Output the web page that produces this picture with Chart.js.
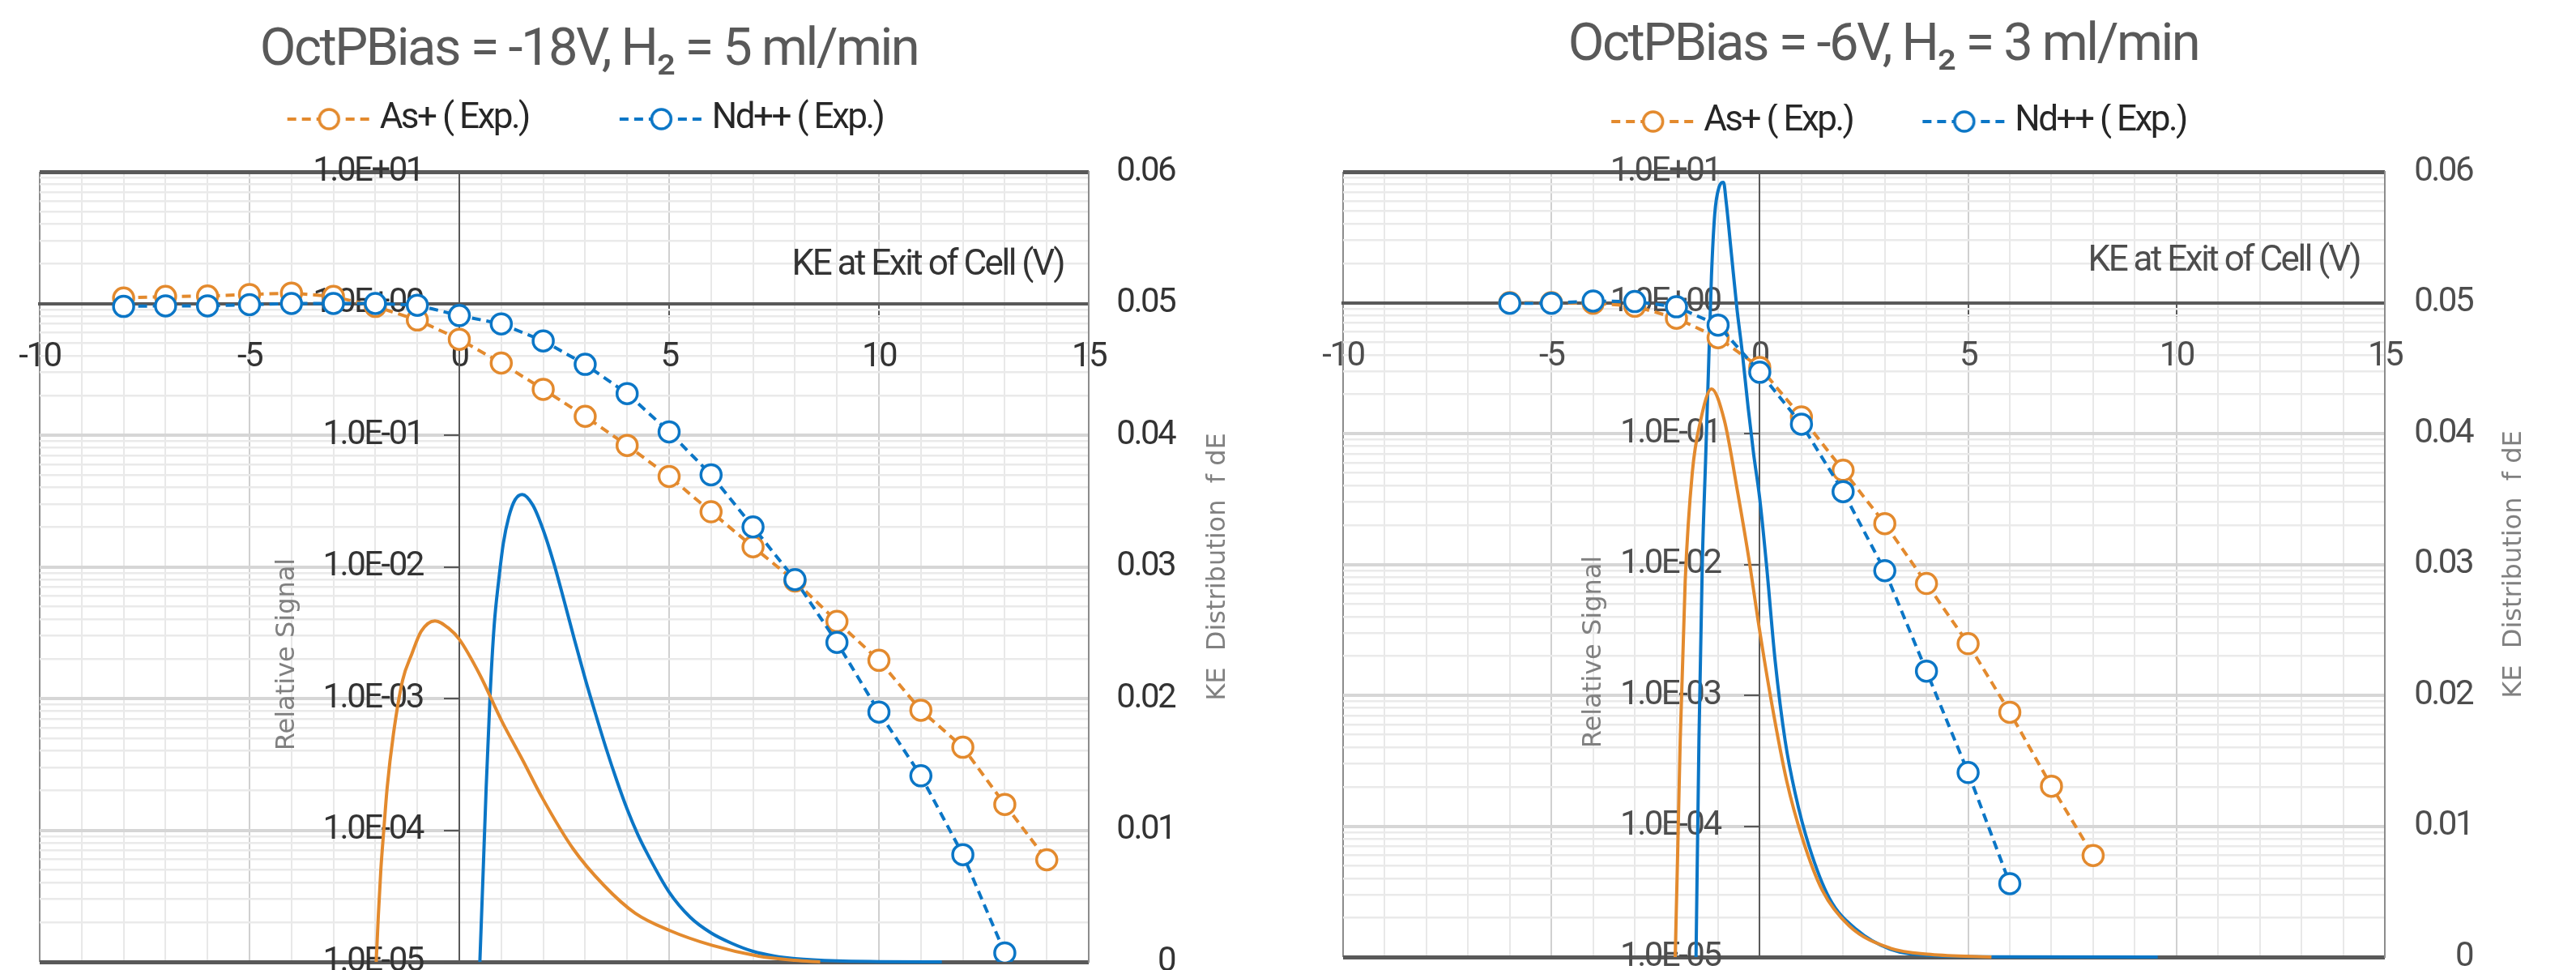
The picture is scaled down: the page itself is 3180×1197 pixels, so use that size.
<!DOCTYPE html>
<html>
<head>
<meta charset="utf-8">
<script src="https://cdn.jsdelivr.net/npm/chart.js@4.4.1/dist/chart.umd.min.js"></script>
<style>
  html, body { margin: 0; padding: 0; background: #ffffff; }
  #wrap { width: 3180px; height: 1197px; display: flex; }
  canvas { display: block; }
</style>
</head>
<body>
<div id="wrap">
  <canvas id="c1" width="1590" height="1197"></canvas>
  <canvas id="c2" width="1590" height="1197"></canvas>
</div>
<script>
// ---------------- text ----------------
const chartTitles = ['OctPBias = -18V, H\u2082 = 5 ml/min', 'OctPBias = -6V, H\u2082 = 3 ml/min'];
const seriesNames = ['As+ ( Exp.)', 'Nd++ ( Exp.)'];
const curveNames = ['As+ KE distribution', 'Nd++ KE distribution'];
const xAxisTitle = 'KE at Exit of Cell (V)';
const yAxisTitle = 'Relative Signal';
const y2AxisTitle = 'KE  Distribution  f dE';

// ---------------- tick values / labels ----------------
const xTickValues = [-10, -9, -8, -7, -6, -5, -4, -3, -2, -1, 0, 1, 2, 3, 4, 5, 6, 7, 8, 9, 10, 11, 12, 13, 14, 15];
const xLabelledTicks = [-10, -5, 0, 5, 10, 15];
const yDecadeExponents = [-5, -4, -3, -2, -1, 0, 1];
const yMantissas = [1, 2, 3, 4, 5, 6, 7, 8, 9];
const y2TickValues = [0, 0.01, 0.02, 0.03, 0.04, 0.05, 0.06];
const y2TickLabels = ['0', '0.01', '0.02', '0.03', '0.04', '0.05', '0.06'];

// ---------------- chart 1 data (OctPBias = -18V) ----------------
const c1AsX = [-8, -7, -6, -5, -4, -3, -2, -1, 0, 1, 2, 3, 4, 5, 6, 7, 8, 9, 10, 11, 12, 13, 14];
const c1AsY = [1.10, 1.13, 1.14, 1.17, 1.20, 1.13, 0.95, 0.75, 0.535, 0.353, 0.223, 0.139, 0.0836, 0.0486, 0.0262, 0.0142, 0.0078, 0.00385, 0.00195, 0.000815, 0.000427, 0.000157, 0.0000596];
const c1NdX = [-8, -7, -6, -5, -4, -3, -2, -1, 0, 1, 2, 3, 4, 5, 6, 7, 8, 9, 10, 11, 12, 13];
const c1NdY = [0.95, 0.96, 0.96, 0.98, 1.0, 1.0, 1.0, 0.97, 0.81, 0.70, 0.52, 0.345, 0.207, 0.106, 0.050, 0.0201, 0.0080, 0.00267, 0.00079, 0.000259, 0.0000652, 0.0000117];
const c1AsCurveX = [-1.98, -1.93, -1.87, -1.8, -1.72, -1.57, -1.35, -1.13, -0.91, -0.58, -0.24, 0, 0.49, 1.01, 1.53, 1.97, 2.71, 3.45, 4.19, 5.0, 6.03, 7.14, 8.0, 8.6];
const c1AsCurveY = [0, 0.0035, 0.0070, 0.0100, 0.0132, 0.0173, 0.0214, 0.0234, 0.0251, 0.0259, 0.0253, 0.0245, 0.0218, 0.0183, 0.0152, 0.0125, 0.0086, 0.0058, 0.0037, 0.0024, 0.00125, 0.00043, 0.00012, 0];
const c1NdCurveX = [0.49, 0.57, 0.64, 0.73, 0.83, 0.94, 1.05, 1.18, 1.33, 1.5, 1.75, 2.0, 2.25, 2.5, 2.75, 3.0, 3.25, 3.5, 3.75, 4.0, 4.25, 4.5, 5.0, 5.5, 6.0, 6.5, 7.0, 7.5, 8.0, 9.0, 10.0, 11.5];
const c1NdCurveY = [0, 0.007, 0.0132, 0.020, 0.0255, 0.0290, 0.0318, 0.0338, 0.0351, 0.0355, 0.0347, 0.0328, 0.0303, 0.0274, 0.0244, 0.0215, 0.0188, 0.0162, 0.0138, 0.0116, 0.0097, 0.0081, 0.0053, 0.0034, 0.0022, 0.0014, 0.0008, 0.00045, 0.00025, 0.00007, 0.00002, 0];

// ---------------- chart 2 data (OctPBias = -6V) ----------------
const c2AsX = [-6, -5, -4, -3, -2, -1, 0, 1, 2, 3, 4, 5, 6, 7, 8];
const c2AsY = [1.00, 1.00, 0.99, 0.94, 0.76, 0.54, 0.32, 0.134, 0.0524, 0.0205, 0.00715, 0.00248, 0.000742, 0.000202, 0.0000597];
const c2NdX = [-6, -5, -4, -3, -2, -1, 0, 1, 2, 3, 4, 5, 6];
const c2NdY = [0.99, 0.99, 1.03, 1.02, 0.93, 0.674, 0.294, 0.118, 0.036, 0.00896, 0.00153, 0.000257, 0.0000364];
const c2AsCurveX = [-2.03, -1.97, -1.91, -1.79, -1.62, -1.42, -1.16, -0.85, -0.53, -0.24, -0.04, 0.28, 0.65, 1.02, 1.5, 2.15, 3.13, 4.1, 5.56];
const c2AsCurveY = [0, 0.008, 0.0165, 0.0287, 0.037, 0.041, 0.0434, 0.041, 0.0355, 0.030, 0.0257, 0.0195, 0.0134, 0.0091, 0.0051, 0.00237, 0.00068, 0.0002, 0];
const c2NdCurveX = [-1.53, -1.46, -1.38, -1.3, -1.23, -1.16, -1.08, -0.98, -0.87, -0.81, -0.68, -0.55, -0.42, -0.28, -0.15, 0.0, 0.16, 0.37, 0.61, 0.85, 1.18, 1.67, 2.32, 3.13, 4.1, 5.5, 9.55];
const c2NdCurveY = [0, 0.0165, 0.030, 0.038, 0.045, 0.052, 0.0568, 0.0588, 0.0592, 0.0578, 0.0537, 0.0496, 0.0462, 0.0420, 0.0385, 0.0350, 0.0300, 0.0226, 0.0165, 0.0125, 0.0085, 0.0045, 0.0021, 0.0006, 0.00012, 0.00002, 0];

// ---------------- styling ----------------
const ORANGE = '#E38A2E';
const BLUE = '#0B76C6';
const FONT_NARROW = "Roboto, 'Liberation Sans', sans-serif";
const FONT_WIDE = "'DejaVu Sans', 'Verdana', sans-serif";
const LETTER_SPACING = '-2.5px';

function zip(xs, ys) { return xs.map((x, i) => ({ x: x, y: ys[i] })); }

function legendImage(color, width) {
  const c = document.createElement('canvas');
  const H = 32, M = 103;
  c.width = width; c.height = H;
  const g = c.getContext('2d');
  const x0 = width - M;
  g.strokeStyle = color;
  g.lineWidth = 4;
  g.setLineDash([11, 7]);
  g.beginPath(); g.moveTo(x0, H / 2); g.lineTo(width, H / 2); g.stroke();
  g.setLineDash([]);
  g.beginPath(); g.arc(x0 + M / 2, H / 2, 12, 0, Math.PI * 2);
  g.fillStyle = '#ffffff'; g.fill();
  g.lineWidth = 3.5; g.stroke();
  return c;
}

function fmtExp(v) {
  const l = Math.log10(v);
  const e = Math.round(l);
  if (Math.abs(l - e) > 1e-6) return '';
  return '1.0E' + (e < 0 ? '-' : '+') + String(Math.abs(e)).padStart(2, '0');
}

// tighter letter spacing to approximate the condensed face of the original
const condensePlugin = {
  id: 'condense',
  beforeUpdate(chart) { chart.ctx.letterSpacing = LETTER_SPACING; },
  beforeDraw(chart) { chart.ctx.letterSpacing = LETTER_SPACING; }
};

const axisTitlePlugin = {
  id: 'axisTitles',
  afterDraw(chart, args, o) {
    const { ctx, chartArea: ca, scales } = chart;
    const midY = (ca.top + ca.bottom) / 2;
    ctx.save();
    ctx.letterSpacing = '0px';
    ctx.font = '32px ' + FONT_WIDE;
    ctx.fillStyle = '#808080';
    ctx.textAlign = 'center';
    ctx.textBaseline = 'middle';
    ctx.save();
    ctx.translate(scales.x.getPixelForValue(0) - o.yTitleDX, midY + o.yTitleDY);
    ctx.rotate(-Math.PI / 2);
    ctx.fillText(scales.y.options.title.text, 0, 0);
    ctx.restore();
    ctx.save();
    ctx.translate(ca.right + o.y2TitleDX, midY);
    ctx.rotate(-Math.PI / 2);
    ctx.fillText(scales.y2.options.title.text, 0, 0);
    ctx.restore();
    ctx.letterSpacing = LETTER_SPACING;
    ctx.font = '44px ' + FONT_NARROW;
    ctx.fillStyle = o.xTitleColor;
    ctx.textAlign = 'right';
    ctx.fillText(scales.x.options.title.text, ca.right - o.xTitleInset, scales.y.getPixelForValue(1) - o.xTitleDY);
    ctx.restore();
  }
};

function buildChart(id, d, L) {
  const imgW = L.legendBox + 22;
  const imgs = [legendImage(ORANGE, imgW), legendImage(BLUE, imgW)];
  const yTicks = [];
  yDecadeExponents.forEach(e => {
    yMantissas.forEach(m => {
      const v = m * Math.pow(10, e);
      if (v <= 10.0000001) yTicks.push({ value: v, major: m === 1 });
    });
  });
  const isDecade = v => Math.abs(Math.log10(v) - Math.round(Math.log10(v))) < 1e-6;
  const tickFont = { family: FONT_NARROW, size: 42 };
  const curveClip = { left: 0, top: 0, right: 0, bottom: 4 };

  return new Chart(document.getElementById(id), {
    type: 'scatter',
    data: {
      datasets: [
        { label: seriesNames[0], data: zip(d.asX, d.asY), yAxisID: 'y', order: 1,
          showLine: true, borderColor: ORANGE, borderWidth: 4, borderDash: [11, 7],
          pointRadius: 12.5, pointBorderWidth: 3.5, pointBorderColor: ORANGE, pointBackgroundColor: '#ffffff' },
        { label: seriesNames[1], data: zip(d.ndX, d.ndY), yAxisID: 'y', order: 0,
          showLine: true, borderColor: BLUE, borderWidth: 4, borderDash: [11, 7],
          pointRadius: 12.5, pointBorderWidth: 3.5, pointBorderColor: BLUE, pointBackgroundColor: '#ffffff' },
        { label: curveNames[0], data: zip(d.asCX, d.asCY), yAxisID: 'y2', order: 2, clip: curveClip,
          showLine: true, borderColor: ORANGE, borderWidth: 4, pointRadius: 0,
          cubicInterpolationMode: 'monotone' },
        { label: curveNames[1], data: zip(d.ndCX, d.ndCY), yAxisID: 'y2', order: 3, clip: curveClip,
          showLine: true, borderColor: BLUE, borderWidth: 4, pointRadius: 0,
          cubicInterpolationMode: 'monotone' }
      ]
    },
    options: {
      responsive: false,
      devicePixelRatio: 1,
      animation: false,
      events: [],
      layout: { autoPadding: false, padding: { left: L.padL, right: L.padR, top: 0, bottom: L.padB } },
      plugins: {
        tooltip: { enabled: false },
        title: {
          display: true, text: d.title, color: '#595959',
          font: { family: FONT_NARROW, size: 65, weight: 'normal', lineHeight: L.titleLH + 'px' },
          padding: { top: L.titleTop, bottom: L.titleBottom }
        },
        subtitle: {
          display: true, text: '', weight: 500, padding: 0,
          font: { size: 10, lineHeight: L.spacer + 'px' }
        },
        legend: {
          display: true, position: 'top', fullSize: false,
          labels: {
            usePointStyle: true, pointStyleWidth: L.legendBox, padding: L.legendPad,
            color: '#262626', font: { family: FONT_NARROW, size: 44 },
            filter: item => item.datasetIndex < 2,
            sort: (a, b) => a.datasetIndex - b.datasetIndex,
            generateLabels: chart => {
              const items = Chart.defaults.plugins.legend.labels.generateLabels(chart);
              items.forEach(it => { if (it.datasetIndex < 2) it.pointStyle = imgs[it.datasetIndex]; });
              return items;
            }
          }
        },
        axisTitles: {
          yTitleDX: L.yTitleDX, yTitleDY: 108, y2TitleDX: 160,
          xTitleInset: 31, xTitleDY: L.xTitleDY, xTitleColor: L.textColor
        }
      },
      scales: {
        x: {
          type: 'linear', min: -10, max: 15, position: { y: 1 },
          title: { display: false, text: xAxisTitle },
          afterBuildTicks: s => { s.ticks = xTickValues.map(v => ({ value: v })); },
          afterFit: s => { s.height = 0; s.paddingLeft = 0; s.paddingRight = 0; },
          ticks: {
            autoSkip: false, maxRotation: 0, padding: 27, color: L.textColor, font: tickFont,
            callback: v => (xLabelledTicks.indexOf(v) >= 0 ? String(v) : '')
          },
          grid: {
            drawTicks: true, tickLength: 15,
            color: c => {
              const v = c.tick.value;
              if (v === -10 || v === 15) return '#8c8c8c';
              if (v === 0) return '#595959';
              return (v % 5 === 0) ? '#d0d0d0' : '#e8e8e8';
            },
            lineWidth: 2,
            tickColor: c => (xLabelledTicks.indexOf(c.tick.value) >= 0 && c.tick.value !== -10 && c.tick.value !== 15 ? '#595959' : 'rgba(0,0,0,0)'),
            tickWidth: 2
          },
          border: { display: true, color: '#595959', width: 4 }
        },
        // log axis carrying the data, drawn at x = 0 (grid, tick marks, axis line)
        y: {
          type: 'logarithmic', min: 1e-5, max: 10, position: { x: 0 },
          title: { display: false, text: yAxisTitle },
          afterBuildTicks: s => { s.ticks = yTicks.map(t => ({ value: t.value, major: t.major })); },
          afterFit: s => { s.width = 0; s.paddingTop = 0; s.paddingBottom = 0; },
          ticks: { display: false, autoSkip: false },
          grid: {
            drawTicks: true, tickLength: 18,
            color: c => {
              const v = c.tick.value;
              if (Math.abs(v - 10) < 1e-9 || Math.abs(v - 1e-5) < 1e-12) return '#595959';
              if (Math.abs(v - 1) < 1e-9) return '#595959';
              return isDecade(v) ? '#d6d6d6' : '#eaeaea';
            },
            lineWidth: c => {
              const v = c.tick.value;
              if (Math.abs(v - 10) < 1e-9 || Math.abs(v - 1e-5) < 1e-12) return 5;
              return isDecade(v) ? 4 : 2.5;
            },
            tickColor: c => (isDecade(c.tick.value) ? '#595959' : 'rgba(0,0,0,0)'),
            tickWidth: 2
          },
          border: { display: true, color: '#595959', width: 2 }
        },
        // same log axis, used only to place its labels a little left of the axis line
        yLabels: {
          type: 'logarithmic', min: 1e-5, max: 10, position: { x: L.yLabelAt },
          afterBuildTicks: s => { s.ticks = yTicks.map(t => ({ value: t.value, major: t.major })); },
          afterFit: s => { s.width = 0; s.paddingTop = 0; s.paddingBottom = 0; },
          ticks: { autoSkip: false, color: L.textColor, font: tickFont, callback: v => fmtExp(v) },
          grid: { display: false },
          border: { display: false }
        },
        y2: {
          type: 'linear', position: 'right', min: 0, max: 0.06,
          title: { display: false, text: y2AxisTitle },
          afterBuildTicks: s => { s.ticks = y2TickValues.map(v => ({ value: v })); },
          afterFit: s => { s.width = L.y2Width; s.paddingTop = 0; s.paddingBottom = 0; },
          ticks: { display: false },
          grid: { display: false, drawOnChartArea: false, drawTicks: false },
          border: { display: true, color: '#8c8c8c', width: 2 }
        },
        y2Labels: {
          type: 'linear', min: 0, max: 0.06, position: { x: L.y2LabelAt },
          afterBuildTicks: s => { s.ticks = y2TickValues.map(v => ({ value: v })); },
          afterFit: s => { s.width = 0; s.paddingTop = 0; s.paddingBottom = 0; },
          ticks: {
            autoSkip: false, color: L.textColor, font: tickFont,
            callback: v => y2TickLabels[y2TickValues.indexOf(Math.round(v * 100) / 100)]
          },
          grid: { display: false },
          border: { display: false }
        }
      }
    },
    plugins: [condensePlugin, axisTitlePlugin]
  });
}

buildChart('c1', {
  title: chartTitles[0],
  asX: c1AsX, asY: c1AsY, ndX: c1NdX, ndY: c1NdY,
  asCX: c1AsCurveX, asCY: c1AsCurveY, ndCX: c1NdCurveX, ndCY: c1NdCurveY
}, {
  padL: 49, padR: 185, padB: 10, y2Width: 61,
  yLabelAt: -0.87, y2LabelAt: 17.05, yTitleDX: 212, xTitleDY: 47,
  titleTop: 63, titleLH: 2, titleBottom: 0, legendPad: 60, legendBox: 144, spacer: 33,
  textColor: '#333333'
});

buildChart('c2', {
  title: chartTitles[1],
  asX: c2AsX, asY: c2AsY, ndX: c2NdX, ndY: c2NdY,
  asCX: c2AsCurveX, asCY: c2AsCurveY, ndCX: c2NdCurveX, ndCY: c2NdCurveY
}, {
  padL: 68, padR: 188, padB: 16, y2Width: 48,
  yLabelAt: -0.95, y2LabelAt: 17.1, yTitleDX: 205, xTitleDY: 51,
  titleTop: 56, titleLH: 4, titleBottom: 68, legendPad: 0, legendBox: 178, spacer: 30,
  textColor: '#4d4d4d'
});
</script>
</body>
</html>
